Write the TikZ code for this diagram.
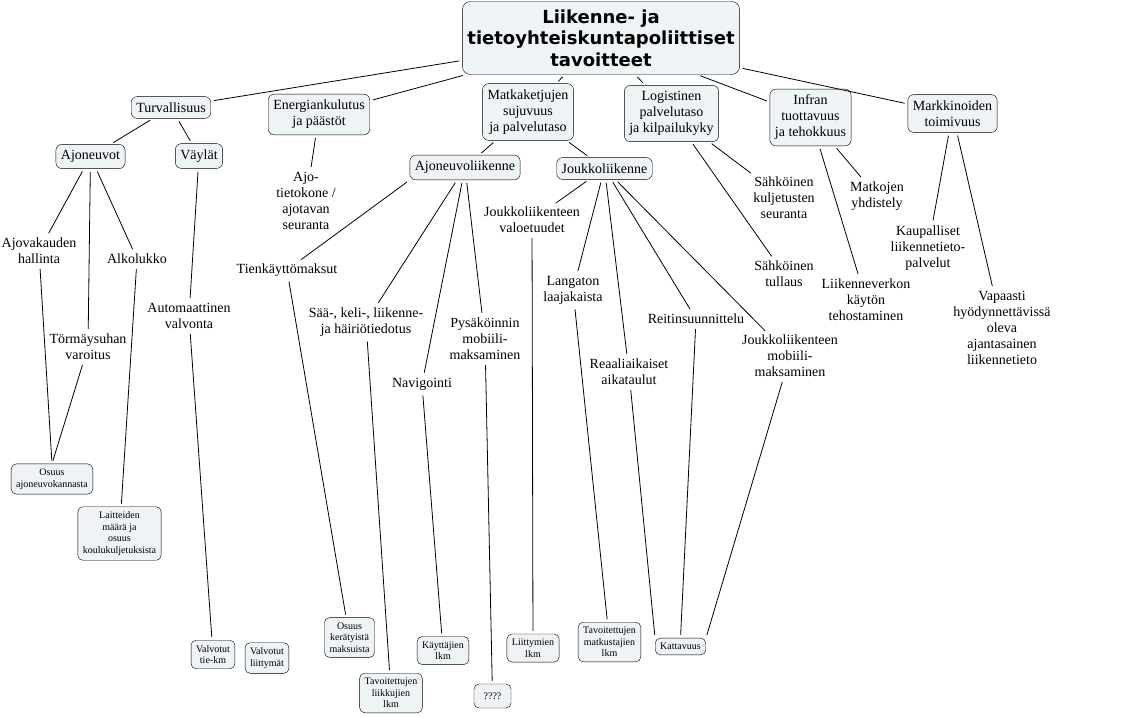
\documentclass[tikz,border=0pt]{standalone}
\usepackage{fontspec}
\setmainfont{Liberation Serif}
\newfontfamily\titlefont{DejaVu Sans}
\definecolor{boxfill}{RGB}{238,243,246}
\tikzset{
  goal/.style={draw=black,fill=boxfill,rounded corners=8pt,align=center,
    font=\titlefont\bfseries\fontsize{18}{21.5}\selectfont,inner xsep=5pt,inner ysep=8pt},
  concept/.style={draw=black,fill=boxfill,rounded corners=6pt,align=center,
    font=\fontsize{14}{16}\selectfont,inner xsep=5pt,inner ysep=6pt},
  linkword/.style={align=center,font=\fontsize{14}{16}\selectfont,inner sep=2pt},
  measure/.style={draw=black,fill=boxfill,rounded corners=5pt,align=center,
    font=\fontsize{10}{11.5}\selectfont,inner xsep=5pt,inner ysep=5pt}
}
\begin{document}
\begin{tikzpicture}[x=1pt,y=-1pt]
    \useasboundingbox (0,0) rectangle (1132,716);
    \node[goal] (tavoitteet) at (601,38) {Liikenne- ja\\tietoyhteiskuntapoliittiset\\tavoitteet};
    \begin{scope}[every node/.style={concept}]
      \node (turv) at (171,107.5) {Turvallisuus};
      \node (energia) at (319,114.5) {Energiankulutus\\ja päästöt};
      \node (matka) at (528,112) {Matkaketjujen\\sujuvuus\\ja palvelutaso};
      \node (logist) at (671.5,113.5) {Logistinen\\palvelutaso\\ja kilpailukyky};
      \node (infra) at (810.5,117.5) {Infran\\tuottavuus\\ja tehokkuus};
      \node (markk) at (952.5,113.5) {Markkinoiden\\toimivuus};
      \node (ajon) at (90.5,156.5) {Ajoneuvot};
      \node (vaylat) at (199,156) {Väylät};
      \node (ajonliik) at (465,167.5) {Ajoneuvoliikenne};
      \node (joukko) at (604.5,168.5) {Joukkoliikenne};
    \end{scope}
    \begin{scope}[every node/.style={linkword}]
      \node (ajotieto) at (306,201) {Ajo-\\tietokone /\\ajotavan\\seuranta};
      \node (ajovak) at (39,251) {Ajovakauden\\hallinta};
      \node (tormays) at (88,347) {Törmäysuhan\\varoitus};
      \node (alko) at (137,259) {Alkolukko};
      \node (autom) at (189,316) {Automaattinen\\valvonta};
      \node (tienk) at (287,270) {Tienkäyttömaksut};
      \node (saa) at (366,322) {Sää-, keli-, liikenne-\\ja häiriötiedotus};
      \node (navi) at (422,384) {Navigointi};
      \node (pysak) at (485,339) {Pysäköinnin\\mobiili-\\maksaminen};
      \node (valoet) at (532,220) {Joukkoliikenteen\\valoetuudet};
      \node (langaton) at (573,290) {Langaton\\laajakaista};
      \node (reaali) at (629,372) {Reaaliaikaiset\\aikataulut};
      \node (reitti) at (696,319) {Reitinsuunnittelu};
      \node (jlmobiili) at (790,356) {Joukkoliikenteen\\mobiili-\\maksaminen};
      \node (sahkseur) at (784,198) {Sähköinen\\kuljetusten\\seuranta};
      \node (tullaus) at (784,274) {Sähköinen\\tullaus};
      \node (matkojen) at (877,196) {Matkojen\\yhdistely};
      \node (liikverkko) at (866,300) {Liikenneverkon\\käytön\\tehostaminen};
      \node (kaupall) at (928,248) {Kaupalliset\\liikennetieto-\\palvelut};
      \node (vapaasti) at (1002,328) {Vapaasti\\hyödynnettävissä\\oleva\\ajantasainen\\liikennetieto};
    \end{scope}
    \begin{scope}[every node/.style={measure}]
      \node (osuusajon) at (52,479) {Osuus\\ajoneuvokannasta};
      \node (laitteet) at (119.5,533.5) {Laitteiden\\määrä ja\\osuus\\koulukuljetuksista};
      \node (tiekm) at (213,654.5) {Valvotut\\tie-km};
      \node (liittymat) at (267,658) {Valvotut\\liittymät};
      \node (maksut) at (349.5,637.5) {Osuus\\kerätyistä\\maksuista};
      \node (liikkujat) at (391,693) {Tavoitettujen\\liikkujien\\lkm};
      \node (kayttajat) at (443,650.5) {Käyttäjien\\lkm};
      \node[minimum width=37pt,minimum height=24pt] (kysymys) at (492.5,696) {????};
      \node (liittymien) at (533,648) {Liittymien\\lkm};
      \node (matkustajat) at (609.5,642) {Tavoitettujen\\matkustajien\\lkm};
      \node (kattavuus) at (680.5,646.5) {Kattavuus};
    \end{scope}
    \begin{scope}[every edge/.style={draw=black,line width=0.8pt,shorten <=3pt,shorten >=3pt}]
      \path (tavoitteet) edge (turv);
      \path (tavoitteet) edge (energia);
      \path (tavoitteet) edge (matka);
      \path (tavoitteet) edge (logist);
      \path (tavoitteet) edge (infra);
      \path (tavoitteet) edge (markk);
      \path (turv) edge (ajon);
      \path (turv) edge (vaylat);
      \path (energia) edge (ajotieto);
      \path (matka) edge (ajonliik);
      \path (matka) edge (joukko);
      \path (logist) edge (sahkseur);
      \path (logist) edge (tullaus);
      \path (infra) edge (matkojen);
      \path (infra) edge (liikverkko);
      \path (markk) edge (kaupall);
      \path (markk) edge (vapaasti);
      \path (ajon) edge (ajovak);
      \path (ajon) edge (tormays);
      \path (ajon) edge (alko);
      \path (ajovak) edge (osuusajon.north);
      \path (tormays) edge (osuusajon.north);
      \path (alko) edge (laitteet);
      \path (vaylat) edge (autom);
      \path (autom) edge (tiekm);
      \path (ajonliik.south west) edge (tienk);
      \path (ajonliik) edge (saa);
      \path (ajonliik) edge (navi);
      \path (ajonliik) edge (pysak);
      \path (tienk) edge (maksut);
      \path (saa) edge (liikkujat);
      \path (navi) edge (kayttajat);
      \path (pysak) edge (kysymys);
      \path (joukko) edge (valoet);
      \path (joukko) edge (langaton);
      \path (joukko) edge (reaali);
      \path (joukko) edge (reitti);
      \path (joukko) edge (jlmobiili);
      \path (valoet) edge (liittymien);
      \path (langaton) edge (matkustajat);
      \path (reaali) edge (kattavuus.north west);
      \path (reitti) edge (kattavuus.north);
      \path (jlmobiili) edge (kattavuus.north east);
    \end{scope}
\end{tikzpicture}
\end{document}
